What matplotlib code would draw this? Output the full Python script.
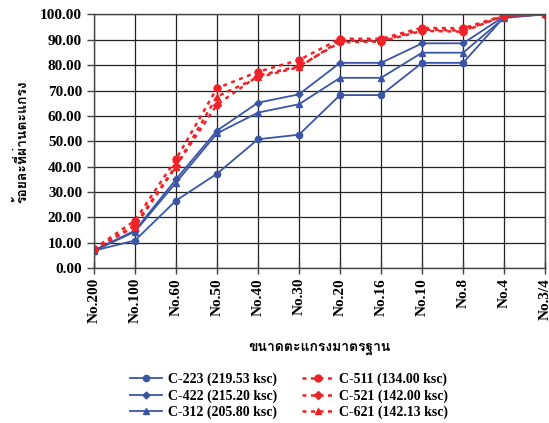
import matplotlib
matplotlib.use("Agg")
import matplotlib.pyplot as plt
from matplotlib import font_manager
from matplotlib.ft2font import FT2Font

sieves = ["No.200", "No.100", "No.60", "No.50", "No.40", "No.30",
          "No.20", "No.16", "No.10", "No.8", "No.4", "No.3/4"]

c223 = [6.9, 10.9, 26.6, 37.2, 50.8, 52.6, 68.2, 68.2, 80.9, 80.9, 99.0, 100.0]
c422 = [7.0, 14.8, 35.0, 54.2, 65.2, 68.5, 80.9, 80.9, 88.6, 88.6, 99.2, 100.0]
c312 = [6.8, 14.4, 33.7, 53.1, 61.3, 64.6, 75.0, 75.0, 84.9, 84.9, 98.6, 100.0]
c511 = [7.6, 18.7, 42.9, 70.9, 77.4, 82.0, 90.4, 90.4, 94.7, 94.5, 99.6, 100.0]
c521 = [7.2, 17.0, 40.3, 64.4, 75.8, 79.6, 89.0, 89.3, 93.5, 93.2, 99.5, 100.0]
c621 = [7.4, 16.4, 40.0, 67.6, 75.2, 79.2, 89.6, 89.6, 94.0, 93.6, 99.5, 100.0]

labels = ["C-223 (219.53 ksc)", "C-422 (215.20 ksc)", "C-312 (205.80 ksc)",
          "C-511 (134.00 ksc)", "C-521 (142.00 ksc)", "C-621 (142.13 ksc)"]


def thai_font():
    # pick any installed font that has Thai glyphs
    for f in font_manager.fontManager.ttflist:
        try:
            cm = FT2Font(f.fname).get_charmap()
        except Exception:
            continue
        if 0x0E01 in cm and 0x0E32 in cm:
            return f.name
    return "DejaVu Sans"


thai = thai_font()
serif = "Liberation Serif"

blue = "#3a55a6"
red = "#ee2328"
dots = (0, (1.6, 1.8))

fig = plt.figure(figsize=(5.49, 4.23), dpi=100)
ax = fig.add_axes([0.171, 0.366, 0.822, 0.600])

x = range(len(sieves))
ax.plot(x, c223, color=blue, lw=1.3, marker="o", ms=4.5, label=labels[0])
ax.plot(x, c422, color=blue, lw=1.3, marker="D", ms=3.5, label=labels[1])
ax.plot(x, c312, color=blue, lw=1.3, marker="^", ms=5, label=labels[2])
ax.plot(x, c511, color=red, lw=1.8, ls=dots, marker="o", ms=5, label=labels[3])
ax.plot(x, c521, color=red, lw=1.8, ls=dots, marker="D", ms=4, label=labels[4])
ax.plot(x, c621, color=red, lw=1.8, ls=dots, marker="^", ms=5, label=labels[5])

ax.set_xlim(0, len(sieves) - 1)
ax.set_ylim(0, 100)
ax.set_yticks(range(0, 101, 10))
ax.set_yticklabels([f"{v:.2f}" for v in range(0, 101, 10)],
                   fontfamily=serif, fontweight="bold", fontsize=11)
ax.set_xticks(list(x))
ax.set_xticklabels(sieves, rotation=90, fontfamily=serif, fontweight="bold", fontsize=11)
ax.tick_params(axis="x", direction="inout", length=8, width=1, color="#444444", pad=3)
ax.tick_params(axis="y", direction="out", length=5, width=1, color="#444444")
ax.grid(True, color="#222222", lw=0.9)
for s in ax.spines.values():
    s.set_color("#444444")
    s.set_linewidth(1.0)

ax.set_xlabel("ขนาดตะแกรงมาตรฐาน", fontfamily=[thai, "DejaVu Sans"], fontweight="bold",
              fontsize=10, labelpad=14)
ax.set_ylabel("ร้อยละที่ผ่านตะแกรง", fontfamily=[thai, "DejaVu Sans"], fontweight="bold",
              fontsize=10, labelpad=8)

fig.legend(loc="upper center", bbox_to_anchor=(0.527, 0.135), ncol=2, frameon=False,
           prop={"family": serif, "weight": "bold", "size": 10},
           handlelength=2.3, columnspacing=1.8, labelspacing=0.2, handletextpad=0.4,
           borderpad=0)

fig.savefig("out.png", dpi=100)
